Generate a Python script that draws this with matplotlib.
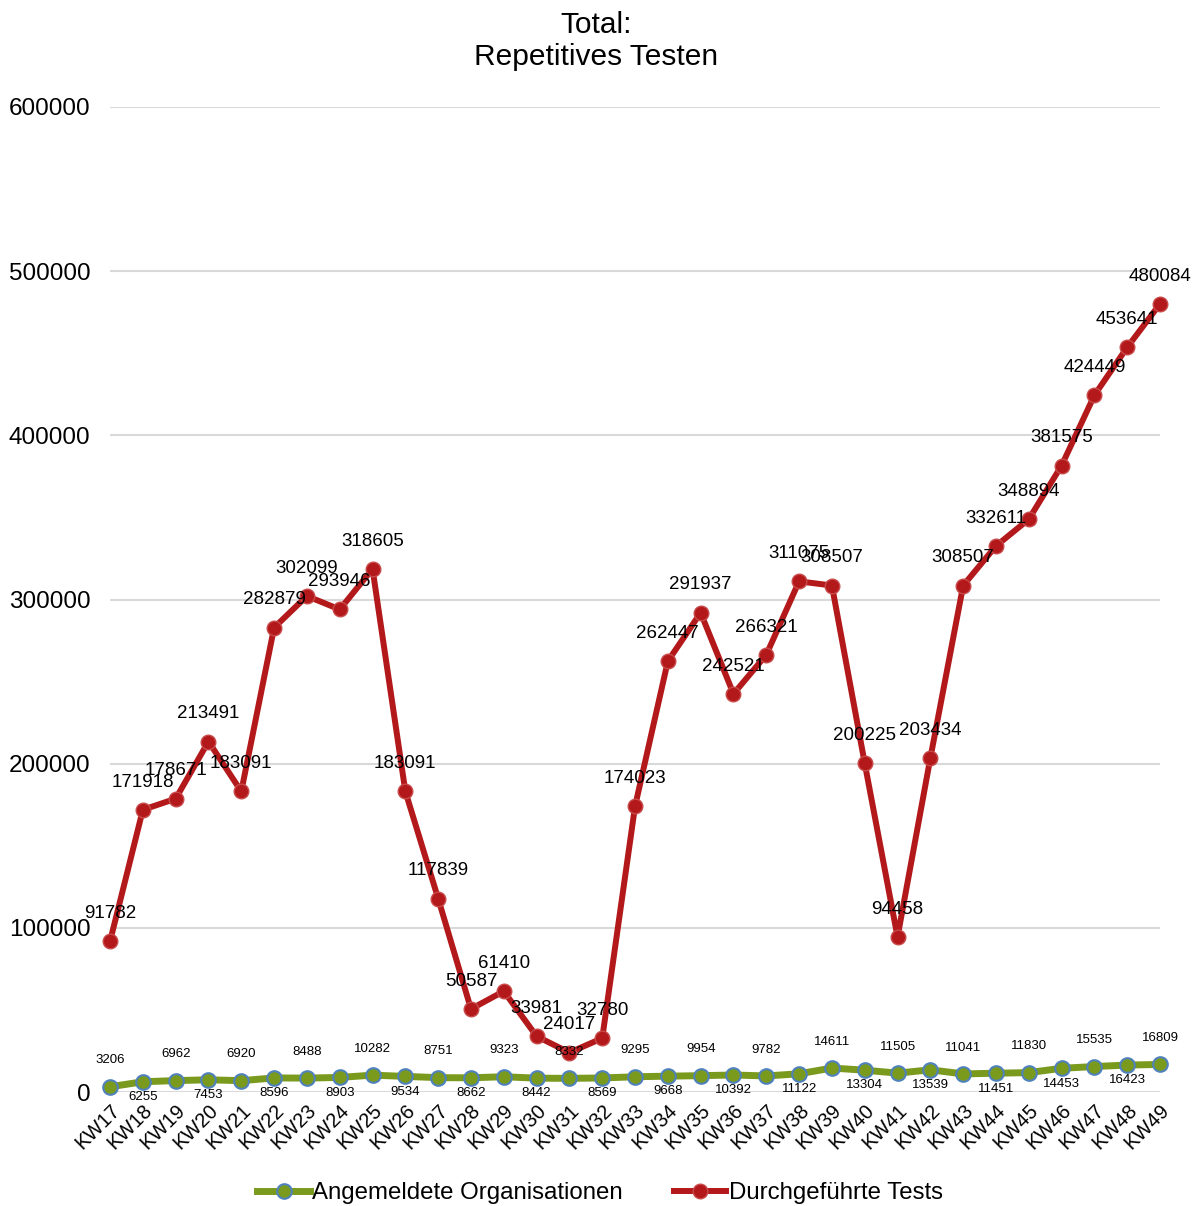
import matplotlib
matplotlib.use("Agg")
import matplotlib.pyplot as plt
from matplotlib.lines import Line2D

plt.rcParams['font.family'] = ['Liberation Sans', 'DejaVu Sans']

weeks = [f"KW{i}" for i in range(17, 50)]
tests = [91782, 171918, 178671, 213491, 183091, 282879, 302099, 293946, 318605,
         183091, 117839, 50587, 61410, 33981, 24017, 32780, 174023, 262447,
         291937, 242521, 266321, 311075, 308507, 200225, 94458, 203434, 308507,
         332611, 348894, 381575, 424449, 453641, 480084]
orgs = [3206, 6255, 6962, 7453, 6920, 8596, 8488, 8903, 10282, 9534, 8751, 8662,
        9323, 8442, 8332, 8569, 9295, 9668, 9954, 10392, 9782, 11122, 14611, 13304,
        11505, 13539, 11041, 11451, 11830, 14453, 15535, 16423, 16809]
yticks = [0, 100000, 200000, 300000, 400000, 500000, 600000]

red = '#B3191B'
green = '#7A9A1E'
blue_edge = '#4F81BD'

fig = plt.figure(figsize=(12, 12.06), dpi=100)
ax = fig.add_axes([0.0917, 0.0945, 0.875, 0.8168])
x = list(range(len(weeks)))

ax.plot(x, orgs, color=green, lw=5, marker='o', ms=10.5, mfc=green,
        mec=blue_edge, mew=1.5, zorder=3)
ax.plot(x, tests, color=red, lw=4.3, marker='o', ms=10.5, mfc=red,
        mec='#C84A4A', mew=1.0, zorder=4)

for i, v in enumerate(tests):
    ax.annotate(str(v), (i, v), xytext=(0, 20), textcoords='offset points',
                ha='center', va='center', fontsize=13.5, color='black', zorder=5)
for i, v in enumerate(orgs):
    dy = 19 if i % 2 == 0 else -11
    ax.annotate(str(v), (i, v), xytext=(0, dy), textcoords='offset points',
                ha='center', va='center', fontsize=9.5, color='black', zorder=5)

ax.set_xlim(0, len(weeks) - 1)
ax.set_ylim(0, 600000)
ax.set_yticks(yticks)
ax.set_yticklabels([str(t) for t in yticks], fontsize=17.5)
ax.set_xticks(x)
ax.set_xticklabels(weeks, rotation=45, ha='right', rotation_mode='anchor', fontsize=14.5)
ax.tick_params(axis='both', length=0)
ax.tick_params(axis='y', pad=14)
ax.tick_params(axis='x', pad=6)
ax.grid(axis='y', color='#D9D9D9', lw=1.5)
ax.set_axisbelow(True)
for s in ax.spines.values():
    s.set_visible(False)
for art in ax.lines:
    art.set_clip_on(False)

fig.text(0.497, 1 - 25 / 1206, "Total:", ha='center', va='center', fontsize=21.5)
fig.text(0.497, 1 - 57 / 1206, "Repetitives Testen", ha='center', va='center', fontsize=21.5)

handles = [Line2D([], [], color=green, lw=5, marker='o', ms=10.5, mfc=green, mec=blue_edge, mew=1.5),
           Line2D([], [], color=red, lw=4.3, marker='o', ms=10.5, mfc=red, mec='#C84A4A', mew=1.0)]
fig.legend(handles, ["Angemeldete Organisationen", "Durchgeführte Tests"],
           loc='center', bbox_to_anchor=(0.5, 1 - 1193 / 1206), ncol=2, frameon=False,
           fontsize=17.3, handlelength=2.2, handletextpad=0.1, columnspacing=2.1)

fig.savefig("out.png", dpi=100)
